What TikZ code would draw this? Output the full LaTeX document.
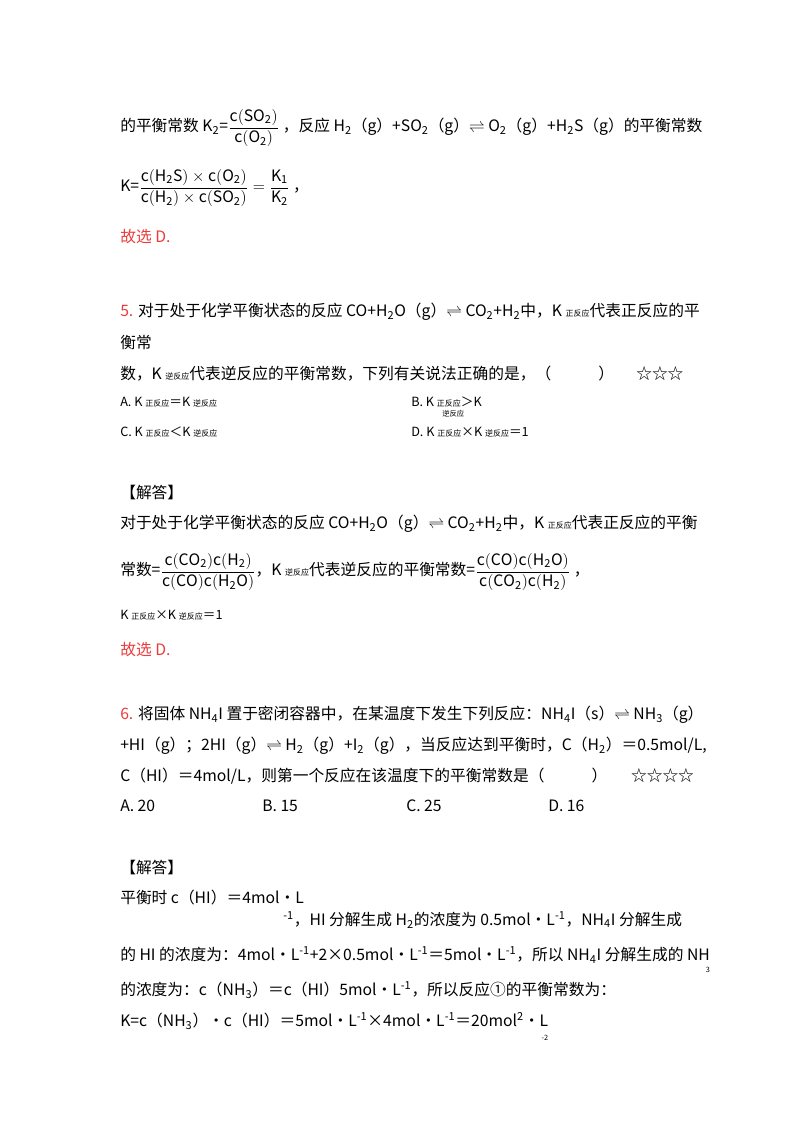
\documentclass[tikz,border=0pt]{standalone}
\usepackage{amsmath}
\usepackage{fontspec}
\setmainfont{Noto Sans CJK SC}
\definecolor{ans}{RGB}{235,60,60}
\newcommand{\sbs}[1]{\textsubscript{#1}}
\newcommand{\sps}[1]{\textsuperscript{#1}}
\newcommand{\eqr}{\ensuremath{\rightleftharpoons}}
\newcommand{\zf}{{\fontsize{6}{7}\selectfont 正反应}}
\newcommand{\nf}{{\fontsize{6}{7}\selectfont 逆反应}}
\begin{document}
\begin{tikzpicture}[x=0.75pt,y=-0.75pt,
  txt/.style={anchor=west,inner sep=0pt,font=\fontsize{11.8}{15}\selectfont},
  sm/.style={anchor=west,inner sep=0pt,font=\fontsize{9.5}{11}\selectfont},
  tiny/.style={anchor=west,inner sep=0pt,font=\fontsize{5.5}{6}\selectfont}]
\useasboundingbox (0,0) rectangle (800,1132);
\node[txt] (l1) at (120,128) {的平衡常数 K\sbs{2}=$\dfrac{\mathrm{c(SO_2)}}{\mathrm{c(O_2)}}$ ，反应 H\sbs{2}（g）+SO\sbs{2}（g）\eqr\ O\sbs{2}（g）+H\sbs{2}S（g）的平衡常数};
\node[txt] (l2) at (120,188) {K=$\dfrac{\mathrm{c(H_2S)\times c(O_2)}}{\mathrm{c(H_2)\times c(SO_2)}}=\dfrac{\mathrm{K_1}}{\mathrm{K_2}}$ ，};
\node[txt,text=ans] (g1) at (120,237) {故选 D.};
\node[txt] (q5) at (120,312) {\textcolor{ans}{5.} 对于处于化学平衡状态的反应 CO+H\sbs{2}O（g）\eqr\ CO\sbs{2}+H\sbs{2}中，K \zf 代表正反应的平};
\node[txt] (q5b) at (120,343) {衡常};
\node[txt] (q5c) at (120,374) {数，K \nf 代表逆反应的平衡常数，下列有关说法正确的是，（\hspace{3em}）};
\node[txt] (st1) at (636,374) {☆☆☆};
\node[sm] (oa) at (120,402) {A. K \zf ＝K \nf};
\node[sm] (ob) at (411,402) {B. K \zf ＞K};
\node[tiny] (obs) at (442,414) {逆反应};
\node[sm] (oc) at (120,432) {C. K \zf ＜K \nf};
\node[sm] (od) at (411,432) {D. K \zf ×K \nf ＝1};
\node[txt] (j1) at (120,493) {【解答】};
\node[txt] (a1) at (120,524) {对于处于化学平衡状态的反应 CO+H\sbs{2}O（g）\eqr\ CO\sbs{2}+H\sbs{2}中，K \zf 代表正反应的平衡};
\node[txt] (a2) at (120,572) {常数=$\dfrac{\mathrm{c(CO_2)c(H_2)}}{\mathrm{c(CO)c(H_2O)}}$，K \nf 代表逆反应的平衡常数=$\dfrac{\mathrm{c(CO)c(H_2O)}}{\mathrm{c(CO_2)c(H_2)}}$ ，};
\node[sm] (a3) at (120,615) {K \zf ×K \nf ＝1};
\node[txt,text=ans] (g2) at (120,650) {故选 D.};
\node[txt] (q6) at (120,715) {\textcolor{ans}{6.} 将固体 NH\sbs{4}I 置于密闭容器中，在某温度下发生下列反应：NH\sbs{4}I（s）\eqr\ NH\sbs{3}（g）};
\node[txt] (q6b) at (120,746) {+HI（g）；2HI（g）\eqr\ H\sbs{2}（g）+I\sbs{2}（g），当反应达到平衡时，C（H\sbs{2}）＝0.5mol/L,};
\node[txt] (q6c) at (120,776) {C（HI）＝4mol/L，则第一个反应在该温度下的平衡常数是（\hspace{3em}）\hspace{1.5em}☆☆☆☆};
\node[txt] (c6a) at (120,806) {A. 20};
\node[txt] (c6b) at (262,806) {B. 15};
\node[txt] (c6c) at (406,806) {C. 25};
\node[txt] (c6d) at (548,806) {D. 16};
\node[txt] (j2) at (120,868) {【解答】};
\node[txt] (b1) at (120,898) {平衡时 c（HI）＝4mol•L};
\node[txt] (b2) at (283,920) {\sps{-1}，HI 分解生成 H\sbs{2}的浓度为 0.5mol•L\sps{-1}，NH\sbs{4}I 分解生成};
\node[txt] (b3) at (120,955) {的 HI 的浓度为：4mol•L\sps{-1}+2×0.5mol•L\sps{-1}＝5mol•L\sps{-1}，所以 NH\sbs{4}I 分解生成的 NH};
\node[tiny,anchor=north east] (b3s) at ([yshift=-3pt]b3.south east) {3};
\node[txt] (b4) at (120,990) {的浓度为：c（NH\sbs{3}）＝c（HI）5mol•L\sps{-1}，所以反应①的平衡常数为：};
\node[txt] (b5) at (120,1021) {K=c（NH\sbs{3}）•c（HI）＝5mol•L\sps{-1}×4mol•L\sps{-1}＝20mol\sps{2}•L};
\node[tiny,anchor=north east] (b5s) at ([yshift=-4pt]b5.south east) {-2};
\end{tikzpicture}
\end{document}
